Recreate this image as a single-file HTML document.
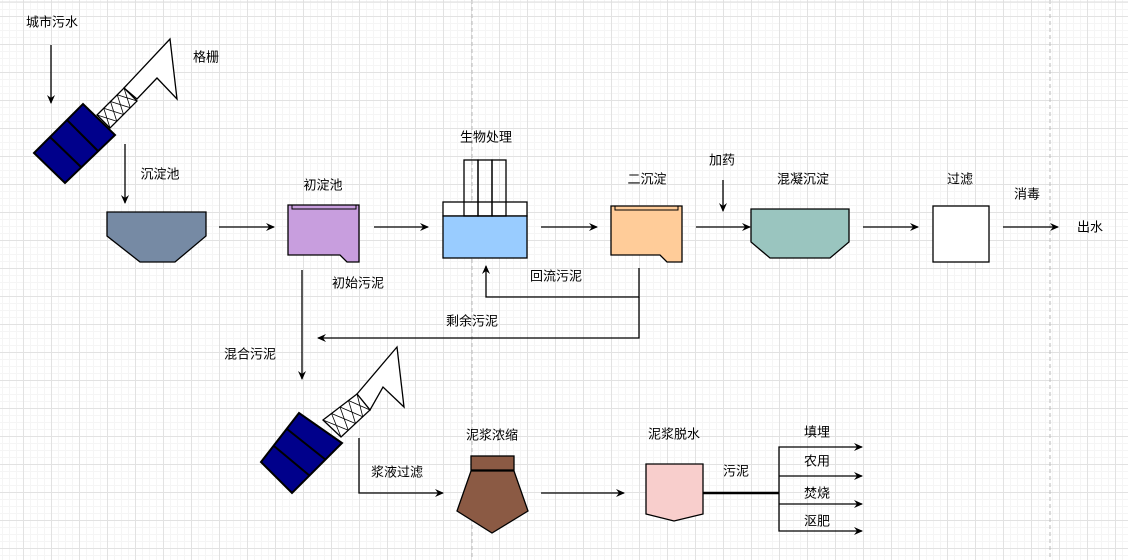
<!DOCTYPE html>
<html><head><meta charset="utf-8"><style>
html,body{margin:0;padding:0}
body{width:1128px;height:560px;overflow:hidden;background-color:#fff;
background-image:linear-gradient(to right,#e2e2e2 1px,transparent 1px),linear-gradient(to bottom,#e2e2e2 1px,transparent 1px),linear-gradient(to right,#f5f5f5 1px,transparent 1px),linear-gradient(to bottom,#f5f5f5 1px,transparent 1px);
background-size:28px 28px,28px 28px,7px 7px,7px 7px;background-position:23px 16px,23px 16px,2px 2px,2px 2px}
svg{position:absolute;left:0;top:0}
text{font-family:"Liberation Sans","Noto Sans CJK SC",sans-serif;font-size:13px;fill:#000;text-anchor:middle;dominant-baseline:middle}
</style></head><body>
<svg width="1128" height="560" viewBox="0 0 1128 560">
<defs><marker id="a" markerWidth="10" markerHeight="10" refX="8" refY="5" orient="auto" markerUnits="userSpaceOnUse"><path d="M0,1 L9,5 L0,9 L3,5 Z" fill="#000"/></marker></defs>
<line x1="472" y1="0" x2="472" y2="560" stroke="#bbb" stroke-dasharray="4 3"/>
<line x1="1050" y1="0" x2="1050" y2="560" stroke="#bbb" stroke-dasharray="4 3"/>
<line x1="0" y1="2" x2="1128" y2="2" stroke="#ddd"/>
<g stroke="#000" stroke-width="1.3" fill="none">
<!-- screen 1 -->
<polygon points="124,88 170,39 177,99 157,78 137,99" fill="#fff"/>
<polygon points="97,115 124,88 137,101 110,128" fill="#fff"/>
<path d="M97,115 L116.75,121.25 M110,128 L103.75,108.25 M103.75,108.25 L123.5,114.5 M116.75,121.25 L110.5,101.5 M110.5,101.5 L130.25,107.75 M123.5,114.5 L117.25,94.75 M117.25,94.75 L137,101 M130.25,107.75 L124,88" stroke-width="0.8"/>
<polygon points="34,153 83,104 115,135 65,183" fill="#00008b" stroke-width="2"/>
<line x1="50" y1="137" x2="81" y2="167" stroke-width="2"/>
<line x1="67" y1="120" x2="98" y2="151" stroke-width="2"/>
<!-- screen 2 -->
<polygon points="357,394 397,347 404,407 383,387 370,410" fill="#fff"/>
<polygon points="323,420 357,394 370,410 341,437" fill="#fff"/>
<path d="M323,420 L348.25,430.25 M341,437 L331.5,413.5 M331.5,413.5 L355.5,423.5 M348.25,430.25 L340,407 M340,407 L362.75,416.75 M355.5,423.5 L348.5,400.5 M348.5,400.5 L370,410 M362.75,416.75 L357,394" stroke-width="0.8"/>
<polygon points="261,462 299,413 342,443 292,493" fill="#00008b" stroke-width="2"/>
<line x1="274" y1="446" x2="310" y2="476" stroke-width="2"/>
<line x1="287" y1="429" x2="326" y2="460" stroke-width="2"/>
<!-- tanks -->
<polygon points="107,212 206,212 206,236 175,262 140,262 107,236" fill="#768aa4"/>
<polygon points="288,205 359,205 359,262 347,262 340,255 288,255" fill="#c89ede"/>
<path d="M292,205 V209 H356 V205" stroke-width="1"/>
<rect x="443" y="202" width="84" height="14" fill="#fff"/>
<rect x="443" y="216" width="84" height="42" fill="#99ccff"/>
<rect x="464" y="160" width="14" height="56" fill="none"/>
<rect x="478" y="160" width="14" height="56" fill="none"/>
<rect x="492" y="160" width="14" height="56" fill="none"/>
<polygon points="611,206 682,206 682,262 667,262 660,255 611,255" fill="#ffcc99"/>
<path d="M615,206 V210 H678 V206" stroke-width="1"/>
<polygon points="751,209 849,209 849,242 830,258 770,258 751,242" fill="#9ac5bf"/>
<rect x="933" y="206" width="56" height="56" fill="#fff"/>
<rect x="471" y="456" width="43" height="14" fill="#8b5a44"/>
<polygon points="471,471 514,471 528,511 492,533 457,511" fill="#8b5a44"/>
<line x1="471" y1="470.5" x2="514" y2="470.5" stroke-width="2"/>
<polygon points="646,464 703,464 703,514 674,521 646,514" fill="#f8cecc"/>
</g>
<g stroke="#000" stroke-width="1.3" fill="none" marker-end="url(#a)">
<line x1="51" y1="45" x2="51" y2="103"/>
<line x1="125" y1="144" x2="125" y2="203"/>
<line x1="219" y1="227" x2="274" y2="227"/>
<line x1="374" y1="227" x2="428" y2="227"/>
<line x1="541" y1="227" x2="597" y2="227"/>
<line x1="696" y1="227" x2="750" y2="227"/>
<line x1="723" y1="180" x2="723" y2="211"/>
<line x1="863" y1="227" x2="918" y2="227"/>
<line x1="1003" y1="227" x2="1058" y2="227"/>
<polyline points="639,268 639,297 486,297 486,266"/>
<polyline points="639,297 639,338 318,338"/>
<line x1="302" y1="270" x2="302" y2="379"/>
<polyline points="359,438 359,493 443,493"/>
<line x1="541" y1="493" x2="624" y2="493"/>
<polyline points="779,493 779,447 862,447"/>
<polyline points="779,476 862,476"/>
<polyline points="779,504 862,504"/>
<polyline points="779,493 779,531 862,531"/>
</g>
<line x1="703" y1="493" x2="779" y2="493" stroke="#000" stroke-width="2.5"/>
<text x="52" y="23">城市污水</text>
<text x="206" y="58">格栅</text>
<text x="160" y="175">沉淀池</text>
<text x="323" y="186">初淀池</text>
<text x="486" y="138">生物处理</text>
<text x="647" y="180">二沉淀</text>
<text x="722" y="161">加药</text>
<text x="803" y="180">混凝沉淀</text>
<text x="960" y="180">过滤</text>
<text x="1027" y="195">消毒</text>
<text x="1090" y="228">出水</text>
<text x="556" y="277">回流污泥</text>
<text x="358" y="284">初始污泥</text>
<text x="472" y="322">剩余污泥</text>
<text x="250" y="355">混合污泥</text>
<text x="397" y="473">浆液过滤</text>
<text x="492" y="436">泥浆浓缩</text>
<text x="674" y="435">泥浆脱水</text>
<text x="736" y="472">污泥</text>
<text x="817" y="433">填埋</text>
<text x="817" y="462">农用</text>
<text x="817" y="494">焚烧</text>
<text x="817" y="522">沤肥</text>
</svg>
</body></html>
